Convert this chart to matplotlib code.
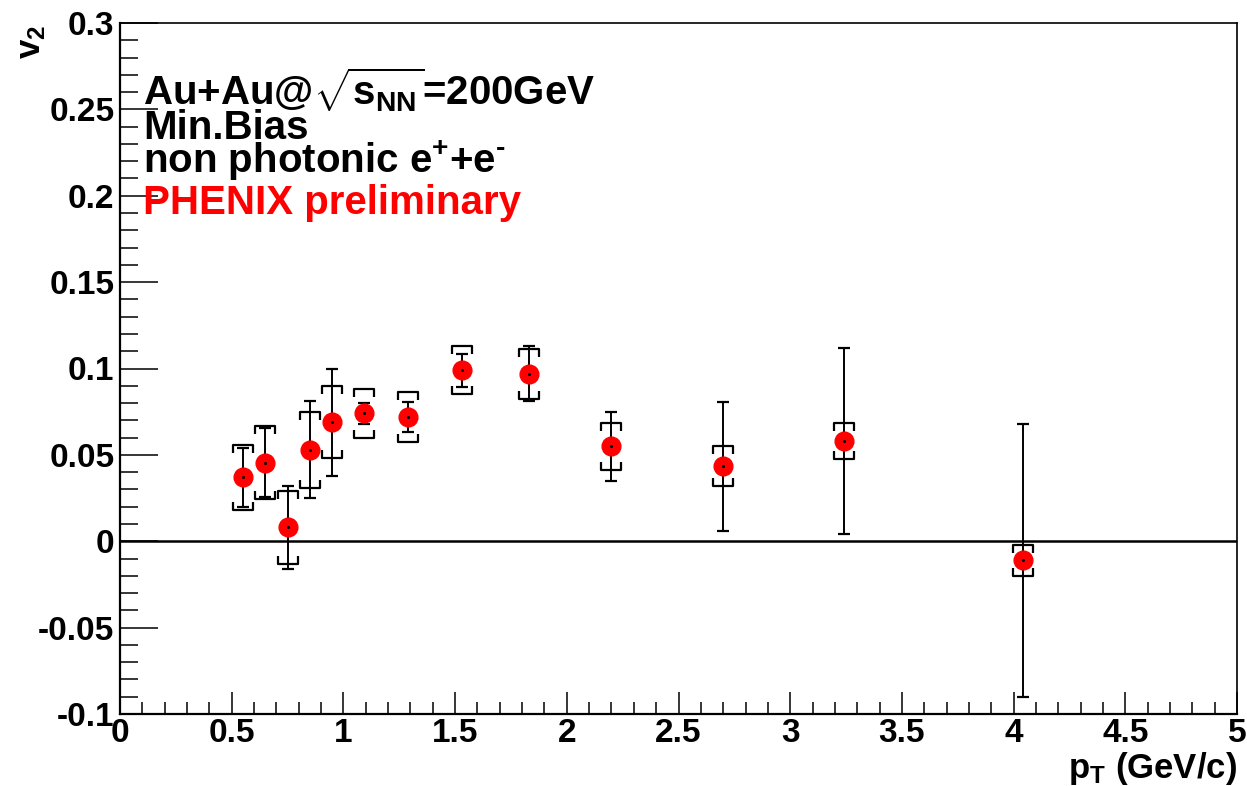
import numpy as np
import matplotlib
matplotlib.use("Agg")
import matplotlib.pyplot as plt
from matplotlib.path import Path
from matplotlib.ticker import MultipleLocator, FuncFormatter

# ---- data ----
pt = [0.55, 0.65, 0.75, 0.85, 0.95, 1.09, 1.29, 1.53, 1.83, 2.20, 2.70, 3.24, 4.04]
v2 = [0.037, 0.0455, 0.008, 0.053, 0.069, 0.074, 0.072, 0.099, 0.097, 0.055, 0.0434, 0.058, -0.011]
stat_err = [0.017, 0.020, 0.024, 0.028, 0.031, 0.006, 0.0085, 0.0095, 0.016, 0.020, 0.0373, 0.054, 0.079]
sys_err = [0.019, 0.021, 0.021, 0.022, 0.021, 0.014, 0.0145, 0.014, 0.0145, 0.0135, 0.0117, 0.0102, 0.009]
xticks = [0, 0.5, 1, 1.5, 2, 2.5, 3, 3.5, 4, 4.5, 5]
yticks = [-0.1, -0.05, 0, 0.05, 0.1, 0.15, 0.2, 0.25, 0.3]

plt.rcParams['font.family'] = ['Liberation Sans', 'DejaVu Sans']
plt.rcParams['font.weight'] = 'bold'
plt.rcParams['mathtext.fontset'] = 'custom'
plt.rcParams['mathtext.rm'] = 'Liberation Sans:bold'
plt.rcParams['mathtext.it'] = 'Liberation Sans:bold'
plt.rcParams['mathtext.bf'] = 'Liberation Sans:bold'
plt.rcParams['mathtext.sf'] = 'Liberation Sans:bold'

W, H = 1247, 786
fig = plt.figure(figsize=(W / 100, H / 100), dpi=100)
ax = fig.add_axes([120 / W, (H - 714) / H, 1117 / W, (714 - 23) / H])

ax.set_xlim(0, 5)
ax.set_ylim(-0.1, 0.3)

# zero line
ax.axhline(0, color='black', lw=1.8, zorder=1)

# systematic brackets
top_br = Path([(-1, -0.75), (-1, 0), (1, 0), (1, -0.75)],
              [Path.MOVETO, Path.LINETO, Path.LINETO, Path.LINETO])
bot_br = Path([(-1, 0.75), (-1, 0), (1, 0), (1, 0.75)],
              [Path.MOVETO, Path.LINETO, Path.LINETO, Path.LINETO])
v2a = np.array(v2)
sysa = np.array(sys_err)
ax.plot(pt, v2a + sysa, linestyle='none', marker=top_br, markersize=15,
        markerfacecolor='none', markeredgecolor='black', markeredgewidth=1.6, zorder=2)
ax.plot(pt, v2a - sysa, linestyle='none', marker=bot_br, markersize=15,
        markerfacecolor='none', markeredgecolor='black', markeredgewidth=1.6, zorder=2)

# statistical error bars
ax.errorbar(pt, v2, yerr=stat_err, fmt='none', ecolor='black', elinewidth=1.4,
            capsize=4, capthick=1.6, zorder=3)
# markers
ax.plot(pt, v2, linestyle='none', marker='o', markersize=13.5, color='#ff0000',
        markeredgecolor='#ff0000', zorder=4)
ax.plot(pt, v2, linestyle='none', marker='o', markersize=1.2, color='black', zorder=5)

# axes styling
ax.xaxis.set_minor_locator(MultipleLocator(0.1))
ax.yaxis.set_minor_locator(MultipleLocator(0.01))
ax.set_xticks(xticks)
ax.set_yticks(yticks)
ax.xaxis.set_major_formatter(FuncFormatter(lambda v, p: f"{v:g}"))
ax.yaxis.set_major_formatter(FuncFormatter(lambda v, p: f"{v:g}"))
ax.tick_params(axis='both', which='both', direction='in', top=False, right=False,
               width=1.1, labelsize=24)
ax.tick_params(axis='y', which='major', length=27, pad=4)
ax.tick_params(axis='y', which='minor', length=13)
ax.tick_params(axis='x', which='major', length=16, pad=3)
ax.tick_params(axis='x', which='minor', length=9)
for lab in ax.get_xticklabels() + ax.get_yticklabels():
    lab.set_fontweight('bold')
for s in ['left', 'bottom']:
    ax.spines[s].set_linewidth(1.6)
for s in ['top', 'right']:
    ax.spines[s].set_linewidth(1.2)

# labels
fig.text(32 / W, 1 - 42 / H, r"v$_{2}$", rotation=90, fontsize=25, fontweight='bold',
         ha='center', va='center')
fig.text(1237 / W, 1 - 778 / H, r"p$_{\mathrm{T}}$ (GeV/c)", fontsize=25, fontweight='bold',
         ha='right', va='baseline')

# annotations
tx = 143 / W
fs = 29
fig.text(tx, 1 - 105 / H, r"Au+Au@$\sqrt{\mathrm{s}_{\mathrm{NN}}}$=200GeV", fontsize=fs,
         fontweight='bold', ha='left', va='baseline')
fig.text(tx, 1 - 139 / H, "Min.Bias", fontsize=fs, fontweight='bold', ha='left', va='baseline')
fig.text(tx, 1 - 173 / H, "non photonic e$^{+}$+e$^{\u2010}$", fontsize=fs, fontweight='bold',
         ha='left', va='baseline')
fig.text(tx, 1 - 214 / H, "PHENIX preliminary", fontsize=fs, fontweight='bold',
         color='#ff0000', ha='left', va='baseline')

fig.savefig("out.png", dpi=100, facecolor='white')
